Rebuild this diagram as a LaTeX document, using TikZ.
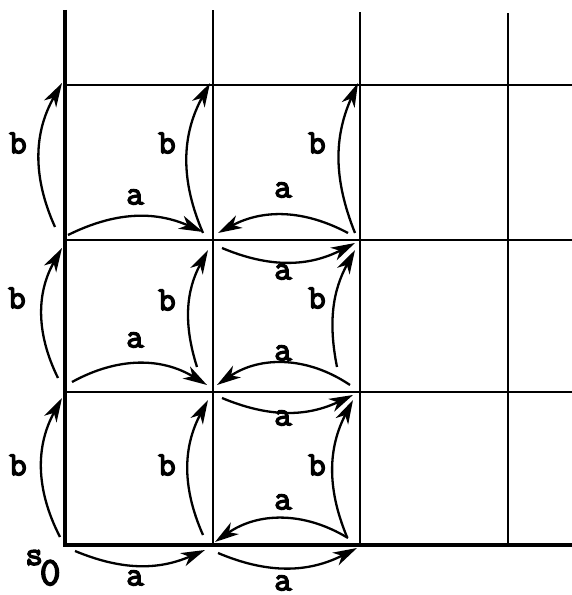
\documentclass[tikz,border=0pt]{standalone}
\usepackage{fontspec}
\newfontfamily\labfont{Latin Modern Mono}[FakeBold=4]
\usetikzlibrary{arrows.meta}
\begin{document}
\begin{tikzpicture}[x=0.5pt,y=0.5pt,
  gridline/.style={line width=1pt},
  heavyline/.style={line width=2.2pt},
  arr/.style={line width=1.15pt,-{Stealth[length=12pt,width=7pt,inset=3.5pt]}},
  lab/.style={font=\labfont\fontsize{17}{19}\selectfont, inner sep=0pt}]
\useasboundingbox (0,0) rectangle (572,595);
% grid vertices
\coordinate (v00) at (65,50);  \coordinate (v10) at (213,50);  \coordinate (v20) at (360,50);  \coordinate (v30) at (508,50);
\coordinate (v01) at (65,203); \coordinate (v11) at (213,203); \coordinate (v21) at (360,203); \coordinate (v31) at (508,203);
\coordinate (v02) at (65,355); \coordinate (v12) at (213,355); \coordinate (v22) at (360,355); \coordinate (v32) at (508,355);
\coordinate (v03) at (65,510); \coordinate (v13) at (213,510); \coordinate (v23) at (360,510); \coordinate (v33) at (508,510);
% line ends
\coordinate (t0) at (65,585); \coordinate (t1) at (213,585); \coordinate (t2) at (360,583); \coordinate (t3) at (508,582);
\coordinate (e0) at (572,50); \coordinate (e1) at (572,203); \coordinate (e2) at (572,355); \coordinate (e3) at (572,510);
% thin lines
\draw[gridline] (v10) -- (t1);
\draw[gridline] (v20) -- (t2);
\draw[gridline] (v30) -- (t3);
\draw[gridline] (v01) -- (e1);
\draw[gridline] (v02) -- (e2);
\draw[gridline] (v03) -- (e3);
% thick lines
\draw[heavyline] (t0) -- (v00) -- (e0);
% a arrows, row 0
\draw[arr] ([shift={(10,-6)}]v00) to[bend right=23] ([shift={(-8,-5)}]v10);
\draw[arr] ([shift={(5,-8)}]v10) to[bend right=25] ([shift={(-3,-3)}]v20);
\draw[arr] ([shift={(-12,7)}]v20) to[bend right=33] ([shift={(2,3)}]v10);
% a arrows, row 1
\draw[arr] ([shift={(7,10)}]v01) to[bend left=30] ([shift={(-6,7)}]v11);
\draw[arr] ([shift={(9,-6)}]v11) to[bend right=24] ([shift={(-7,-3)}]v21);
\draw[arr] ([shift={(-10,7)}]v21) to[bend right=34] ([shift={(4,7)}]v11);
% a arrows, row 2
\draw[arr] ([shift={(3,5)}]v02) to[bend left=25] ([shift={(-10,8)}]v12);
\draw[arr] ([shift={(9,-8)}]v12) to[bend right=25] ([shift={(-5,-3)}]v22);
\draw[arr] ([shift={(-12,7)}]v22) to[bend right=28] ([shift={(5,7)}]v12);
% b arrows
\draw[arr] ([shift={(-5,8)}]v00) to[bend left=28] ([shift={(-3,-6)}]v01);
\draw[arr] ([shift={(-10,10)}]v10) to[bend left=26] ([shift={(-5,-8)}]v11);
\draw[arr] ([shift={(-13,8)}]v20) to[bend left=25] ([shift={(-7,-8)}]v21);
\draw[arr] ([shift={(-7,14)}]v01) to[bend left=28] ([shift={(-3,-8)}]v02);
\draw[arr] ([shift={(-16,25)}]v11) to[bend left=23] ([shift={(-5,-10)}]v12);
\draw[arr] ([shift={(-23,25)}]v21) to[bend left=20] ([shift={(-5,-10)}]v22);
\draw[arr] ([shift={(-10,13)}]v02) to[bend left=27] ([shift={(-3,2)}]v03);
\draw[arr] ([shift={(-10,7)}]v12) to[bend left=26] ([shift={(-3,2)}]v13);
\draw[arr] ([shift={(-5,7)}]v22) to[bend left=23] ([shift={(-2,2)}]v23);
% labels a
\node[lab] (la00) at (135,17) {a};
\node[lab] (la10) at (283,12) {a};
\node[lab] (la20) at (283,93) {a};
\node[lab] (la01) at (135,255) {a};
\node[lab] (la11) at (283,177) {a};
\node[lab] (la21) at (283,242) {a};
\node[lab] (la02) at (135,398) {a};
\node[lab] (la12) at (283,323) {a};
\node[lab] (la22) at (283,405) {a};
% labels b
\node[lab] (lb00) at (18,130) {b};
\node[lab] (lb10) at (167,130) {b};
\node[lab] (lb20) at (317,130) {b};
\node[lab] (lb01) at (17,297) {b};
\node[lab] (lb11) at (167,295) {b};
\node[lab] (lb21) at (317,297) {b};
\node[lab] (lb02) at (18,452) {b};
\node[lab] (lb12) at (167,452) {b};
\node[lab] (lb22) at (317,452) {b};
% start state
\node[lab, anchor=base west] (s0) at (25,10) {\raisebox{10pt}{s}\kern-1.5pt{\fontsize{20}{22}\selectfont 0}};
\end{tikzpicture}
\end{document}
